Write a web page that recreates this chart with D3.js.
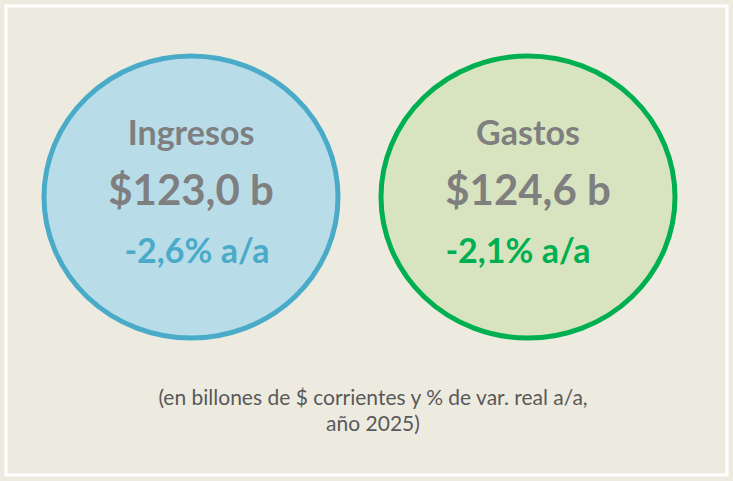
<!DOCTYPE html><html><head><meta charset="utf-8"><script src="https://cdn.jsdelivr.net/npm/d3@7"></script>
<style>body{margin:0;background:#edebe0}</style></head><body><script>
const labels=["Ingresos","Gastos"];
const amounts=["$123,0 b","$124,6 b"];
const changes=["-2,6% a/a","-2,1% a/a"];
const fills=["#b8dde9","#d8e4c0"], strokes=["#4aabc8","#00b050"];
const W=733,H=481;
const svg=d3.select("body").append("svg").attr("width",W).attr("height",H);
svg.append("rect").attr("width",W).attr("height",H).attr("fill","#edebe0");
svg.append("rect").attr("x",6).attr("y",6).attr("width",W-12).attr("height",H-12).attr("fill","none").attr("stroke","#fff").attr("stroke-width",3);
const x=d3.scalePoint().domain(labels).range([191,528]);
const g=svg.selectAll("g.c").data(labels).join("g").attr("transform",d=>`translate(${x(d)},197)`);
g.append("ellipse").attr("rx",147).attr("ry",141).attr("fill",(d,i)=>fills[i]).attr("stroke",(d,i)=>strokes[i]).attr("stroke-width",5);
const f="Lato, 'Open Sans', sans-serif";
g.append("text").text(d=>d).attr("y",-52).attr("text-anchor","middle").attr("font-family",f).attr("font-weight",700).attr("font-size",34).attr("fill","#7f7f7f");
g.append("text").text((d,i)=>amounts[i]).attr("y",8).attr("text-anchor","middle").attr("font-family",f).attr("font-weight",700).attr("font-size",42).attr("fill","#7f7f7f");
g.append("text").text((d,i)=>changes[i]).attr("x",(d,i)=>i?-10:6).attr("y",66).attr("text-anchor","middle").attr("font-family",f).attr("font-weight",700).attr("font-size",34).attr("fill",(d,i)=>strokes[i]);
const t=svg.append("text").attr("text-anchor","middle").attr("font-family",f).attr("font-size",21).attr("fill","#595959");
t.append("tspan").attr("x",373).attr("y",405).text("(en billones de $ corrientes y % de var. real a/a,");
t.append("tspan").attr("x",373).attr("y",431).text("año 2025)");
</script></body></html>
